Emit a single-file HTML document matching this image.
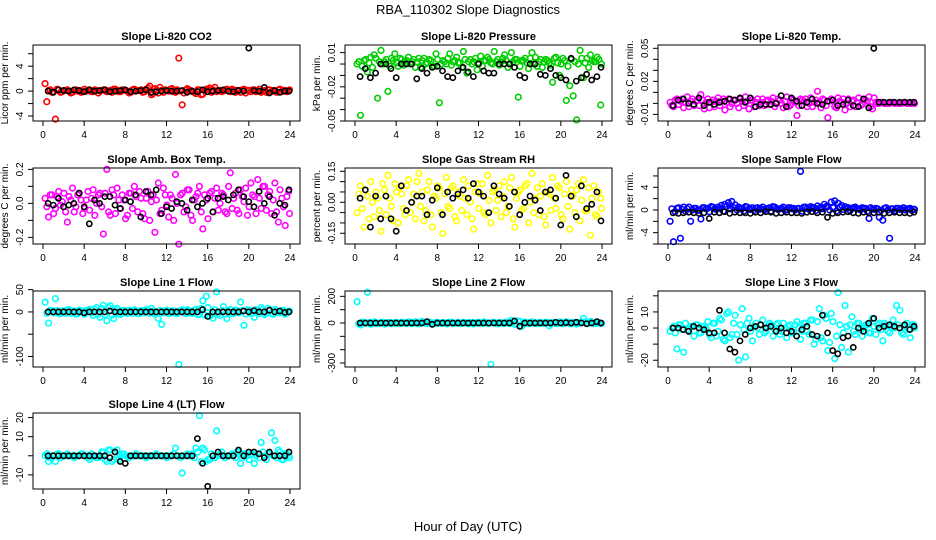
<!DOCTYPE html>
<html><head><meta charset="utf-8"><style>
html,body{margin:0;padding:0;background:#fff;}
svg{display:block;font-family:"Liberation Sans",Helvetica,Arial,sans-serif;}
</style></head><body>
<svg id="chart" width="936" height="540" viewBox="0 0 936 540" xmlns="http://www.w3.org/2000/svg">
<rect x="0" y="0" width="936" height="540" fill="#fff"/>
<text x="468" y="14" text-anchor="middle" font-size="13">RBA_110302  Slope Diagnostics</text>
<text x="468" y="531" text-anchor="middle" font-size="13">Hour of Day (UTC)</text>
</svg>
<script>
const colHours=[0.2,0.53,0.87,1.2,1.53,1.87,2.2,2.53,2.87,3.2,3.53,3.87,4.2,4.53,4.87,5.2,5.53,5.87,6.2,6.53,6.87,7.2,7.53,7.87,8.2,8.53,8.87,9.2,9.53,9.87,10.2,10.53,10.87,11.2,11.53,11.87,12.2,12.53,12.87,13.2,13.53,13.87,14.2,14.53,14.87,15.2,15.53,15.87,16.2,16.53,16.87,17.2,17.53,17.87,18.2,18.53,18.87,19.2,19.53,19.87,20.2,20.53,20.87,21.2,21.53,21.87,22.2,22.53,22.87,23.2,23.53,23.87];
const colHoursB=[0.37,0.7,1.03,1.37,1.7,2.03,2.37,2.7,3.03,3.37,3.7,4.03,4.37,4.7,5.03,5.37,5.7,6.03,6.37,6.7,7.03,7.37,7.7,8.03,8.37,8.7,9.03,9.37,9.7,10.03,10.37,10.7,11.03,11.37,11.7,12.03,12.37,12.7,13.03,13.37,13.7,14.03,14.37,14.7,15.03,15.37,15.7,16.03,16.37,16.7,17.03,17.37,17.7,18.03,18.37,18.7,19.03,19.37,19.7,20.03,20.37,20.7,21.03,21.37,21.7,22.03,22.37,22.7,23.03,23.37,23.7,23.95];
const blkHours=[0.5,1,1.5,2,2.5,3,3.5,4,4.5,5,5.5,6,6.5,7,7.5,8,8.5,9,9.5,10,10.5,11,11.5,12,12.5,13,13.5,14,14.5,15,15.5,16,16.5,17,17.5,18,18.5,19,19.5,20,20.5,21,21.5,22,22.5,23,23.5,23.9];
const xTicks=[0,4,8,12,16,20,24];

const co2Col=[1.2,0.1,-0.2,-4.5,0.2,-0.1,0.1,0,-0.2,0.2,0.1,-0.1,0,0.2,-0.1,0.1,0,0.2,-0.1,0.1,0.3,0,-0.1,0.2,0,-0.2,0.3,0.1,0.2,-0.1,0.5,-0.6,0.4,-0.3,0.1,0.2,0,0.4,-0.2,5.3,-2.2,0.2,0.1,-0.1,-0.4,0.2,-0.5,0.3,0.5,0.2,-0.1,0.1,0,0.3,-0.1,0.2,0.1,-0.2,0.3,0.1,-0.1,0.2,0,-0.2,0.1,0.2,-0.1,0,0.2,-0.1,0.1,0];
const co2ColB=[-1.7,0.2,-0.1,0.3,-0.2,0.1,0.2,-0.3,0.1,0,-0.2,0.3,0.1,-0.1,0.2,-0.3,0.1,0.2,0,-0.2,0.3,-0.1,0.2,0.1,-0.3,0.2,0,0.1,-0.2,0.3,0.8,-0.4,0.2,0.6,-0.2,0.1,0.3,-0.1,0.2,0,-0.3,0.4,0.1,-0.2,0.2,-0.6,0.1,0.3,-0.2,0.6,0.1,-0.1,0.2,0,0.3,-0.2,0.1,0.2,-0.3,0.1,0.2,-0.1,0.3,0,-0.2,0.2,0.1,-0.2,0.3,0.1,-0.1,0.2];
const co2Blk=[0,-0.2,0.2,0.1,0,0.2,0.1,-0.1,0.2,0,0.1,0.2,-0.1,0,0.1,0.2,-0.1,0,0.1,0.2,-0.2,-0.1,0,0.1,0,0,0.1,-0.2,0,-0.1,0.2,-0.1,0,0.1,0.2,0,-0.1,0.1,0,6.9,0.1,0,0.6,-0.3,0.1,-0.2,0,0];

const presCol=[0,-0.045,0.003,-0.007,0.006,0.008,-0.03,0.012,0.002,-0.024,0.005,0.009,-0.002,0.004,0.001,0.006,0.002,-0.003,0.005,0.003,0,0.004,-0.002,0.009,-0.034,0.003,0,0.009,0.002,0.006,0.001,0.011,-0.008,0.004,0.002,-0.005,0.007,0.003,0.006,0.001,0.011,0.004,0.002,0.008,-0.003,0.01,0.004,-0.029,0.003,0.005,-0.004,0.01,0.006,0.002,-0.003,0.004,0.001,-0.016,0.006,-0.01,0.005,-0.032,-0.019,-0.028,-0.049,0.012,-0.012,0.005,0.008,0.002,0.006,-0.036];
const presColB=[0.002,-0.002,0.004,0.001,-0.003,0.005,0.002,0,0.004,-0.002,0.003,0.001,0.005,-0.001,0.003,0,0.004,0.002,-0.003,0.005,0.001,0.003,-0.002,0.004,0,0.002,0.005,-0.001,0.003,0.001,-0.003,0.004,0.002,0,0.005,0.001,-0.002,0.003,0.004,0,0.002,-0.001,0.005,0.003,0,0.002,0.004,-0.002,0.003,0.001,0.005,0,-0.002,0.004,0.002,0.003,-0.001,0.005,0.001,0,0.003,-0.002,0.004,0.002,0,0.005,0.001,-0.003,0.003,0.002,0.004,0];
const presBlk=[-0.011,-0.004,-0.012,-0.008,0,0,-0.004,-0.012,0,0,0,-0.013,-0.004,-0.008,-0.003,-0.002,-0.006,-0.011,-0.012,-0.006,-0.003,-0.007,-0.011,0,-0.006,-0.008,-0.008,0,0,0,-0.003,-0.01,-0.012,0,0,-0.009,-0.01,-0.004,-0.01,-0.012,-0.014,0.005,-0.015,-0.012,-0.009,-0.014,-0.011,-0.003];

const tempCol=[0.001,-0.003,0.004,0.002,-0.004,0.006,0.002,-0.002,0.003,0.008,-0.005,0.004,0.001,-0.003,0.005,0.002,-0.006,0.004,0,0.003,-0.004,0.002,0.006,-0.005,0.003,0.001,-0.002,0.004,0.002,-0.001,0.005,0,0.003,-0.004,0.006,-0.002,0.003,-0.011,0.004,0.002,-0.003,0.005,0.001,0.011,-0.004,0.003,-0.013,0.004,-0.003,0.005,0.001,-0.006,0.004,0.002,-0.003,0.005,-0.001,0.003,0.006,-0.005,0.001,0,0.001,0,0,0.001,0,0,0.001,0,0,0.001];
const tempColB=[-0.002,0.003,-0.001,0.004,0.001,-0.003,0.004,0.002,-0.002,0.003,0.001,-0.004,0.003,0.002,-0.002,0.004,0.001,-0.003,0.003,0,0.004,-0.002,0.002,0.003,-0.003,0.004,0.001,-0.002,0.003,0.002,-0.003,0.004,0,0.002,-0.003,0.004,0.001,-0.002,0.003,0.004,0,-0.003,0.003,0.001,0.004,-0.002,0.002,0.003,-0.004,0.002,0.004,0,-0.003,0.003,0.001,-0.002,0.004,0.002,-0.003,0.005,0,0.001,0,0,0.001,0,0,0,0.001,0,0,0];
const tempBlk=[-0.002,0.003,0.004,0,-0.001,0.005,-0.002,0.001,-0.001,0.001,0.002,0.004,0.003,0.005,0.001,0.005,-0.003,-0.001,-0.001,-0.001,0,0.007,-0.003,0.005,0.002,-0.002,0.001,0.004,0,-0.001,0.002,0.003,-0.002,-0.001,0.003,-0.002,-0.003,0.004,-0.004,0.05,0.001,0.001,0.001,0.001,0.001,0.001,0.001,0.001];

const ambCol=[0.03,-0.08,0.05,-0.03,0.07,0.01,-0.05,0.04,0.09,-0.02,0.06,-0.06,0.02,-0.04,0.08,0.0,0.06,-0.18,0.2,-0.07,0.05,0.09,-0.03,0.02,-0.07,0.06,0.1,-0.05,0.03,-0.09,0.07,0.01,-0.17,0.12,-0.04,0.05,-0.08,0.03,0.17,-0.24,0.06,-0.02,0.08,-0.1,0.04,0.1,-0.15,0.02,0.06,-0.05,0.09,0.0,0.05,-0.06,0.18,0.03,-0.04,0.08,0.01,-0.07,0.12,0.04,0.14,-0.03,0.1,0.05,-0.06,0.12,-0.11,0.03,-0.13,0.07];
const ambColB=[-0.02,0.05,-0.06,0.04,-0.01,0.06,-0.11,0.02,-0.05,0.05,0.02,-0.03,0.07,0.03,-0.07,0.05,-0.02,0.06,-0.05,0.08,-0.06,0.02,0.05,-0.09,0.06,-0.03,0.04,0.07,-0.06,0.03,-0.1,0.05,0.02,-0.06,0.09,-0.01,0.05,-0.1,0.0,0.05,-0.05,0.08,-0.07,0.02,0.06,-0.05,0.05,-0.09,0.07,0.03,-0.04,0.06,-0.05,0.1,-0.03,0.06,-0.06,0.04,0.09,-0.02,0.05,-0.06,0.03,0.1,-0.04,0.07,0.02,-0.05,0.08,-0.02,0.04,-0.06];
const ambBlk=[0.0,-0.01,0.03,-0.02,-0.01,0.0,0.06,-0.02,-0.12,0.02,0.0,0.04,0.04,-0.01,-0.03,0.02,0.01,0.05,-0.08,0.07,0.05,0.08,-0.06,-0.02,-0.03,0.01,0.0,-0.04,0.02,-0.02,0.0,0.03,-0.05,0.03,0.04,0.02,0.05,0.08,0.04,0.01,-0.02,0.07,0.0,0.04,-0.07,0.0,-0.01,0.08];

const rhCol=[-0.05,0.08,-0.12,0.03,0.1,-0.07,0.02,-0.14,0.06,0.13,-0.02,0.09,-0.1,0.04,-0.06,0.11,0.0,-0.08,0.14,0.05,-0.04,0.1,-0.12,0.02,0.07,-0.15,0.12,-0.03,0.08,-0.09,0.03,0.11,-0.06,0.0,-0.13,0.09,0.04,-0.05,0.13,-0.1,0.06,0.01,-0.07,0.1,-0.02,0.12,-0.12,0.05,-0.04,0.08,-0.1,0.14,0.02,-0.06,0.09,-0.11,0.04,0.12,-0.03,0.07,-0.08,0.1,-0.13,0.03,0.06,-0.09,0.11,-0.04,-0.16,0.08,-0.07,0.02];
const rhColB=[0.04,-0.03,0.06,-0.08,0.0,0.05,-0.04,0.09,-0.06,0.02,-0.09,0.05,0.07,-0.03,0.08,-0.05,0.04,0.1,-0.02,-0.09,0.06,-0.06,0.03,0.08,-0.05,0.04,-0.02,0.07,-0.07,0.05,-0.04,0.02,0.08,-0.08,0.05,-0.03,0.09,-0.06,0.01,0.05,-0.04,0.08,0.03,-0.05,0.07,-0.08,0.02,0.06,-0.03,0.09,0.0,-0.05,0.07,0.03,-0.07,0.05,-0.04,0.02,0.08,-0.06,0.04,-0.02,0.06,-0.05,0.09,0.01,-0.04,0.07,0.02,-0.06,0.05,-0.03];
const rhBlk=[0.02,0.06,-0.12,0.03,-0.08,0.03,-0.08,-0.14,0.08,-0.04,0.0,0.03,0.03,-0.06,0.01,0.07,-0.06,0.05,0.02,0.04,0.06,0.02,0.09,0.05,0.03,-0.05,0.08,0.04,0.02,-0.02,0.05,-0.06,0.0,0.03,0.01,-0.04,0.05,0.06,0.02,-0.11,0.13,0.03,-0.07,0.08,-0.03,-0.01,0.05,-0.09];

const flowCol=[-2.0,-5.6,0.3,-5.0,0.5,0.2,-2.0,0.3,-0.1,-1.6,0.4,0.3,0.6,0.2,0.5,0.8,1.0,1.3,1.5,0.9,0.5,0.3,0.6,0.2,0.4,0.3,0.1,0.5,0.2,0.4,0.6,0.3,0.2,0.5,0.1,0.4,0.3,0.2,6.8,0.5,0.3,0.6,0.4,0.7,0.5,1.0,0.6,1.4,1.6,1.2,0.8,0.6,0.4,0.3,0.5,0.2,0.4,0.3,-1.5,0.2,0.3,-1.3,-1.8,0.4,-5.0,0.2,0.3,0.1,0.4,0.2,0.3,0.1];
const flowColB=[0.2,-0.3,0.4,0.1,-0.2,0.5,0.0,0.3,-0.1,0.4,0.2,-0.3,0.5,0.1,0.3,-0.2,0.6,0.2,0.4,0.0,0.3,-0.2,0.5,0.1,-0.1,0.4,0.2,0.0,0.3,-0.2,0.5,0.1,0.3,-0.1,0.4,0.2,0.0,0.3,-0.2,0.5,0.1,0.4,-0.1,0.3,0.2,0.6,0.0,0.4,-0.2,0.5,0.1,0.3,-0.1,0.4,0.2,0.0,0.3,-0.2,0.4,0.1,0.2,-0.1,0.3,0.0,0.2,-0.1,0.3,0.1,0.0,0.2,-0.1,0.1];
const flowBlk=[-0.5,-0.6,-0.5,-0.4,-0.5,-0.6,-0.5,-1.5,-0.4,-0.5,-0.3,-0.6,-0.4,-0.5,-0.5,-0.6,-0.4,-0.5,-0.3,-0.4,-0.6,-0.5,-0.4,-0.5,-0.5,-0.6,-0.4,-0.3,-0.5,-0.4,-1.3,-0.6,-0.5,-0.4,-0.3,-0.5,-0.6,-0.4,-0.5,-0.5,-0.4,-0.6,-0.5,-0.4,-0.5,-0.5,-0.6,-0.4];

const l1Col=[22,-25,3,30,-4,2,-3,5,0,-5,4,-2,3,6,-8,10,-12,15,-20,14,-15,8,-6,4,-3,2,5,-4,3,-2,4,8,-5,-15,-28,3,-4,2,-3,-118,5,-4,3,-3,6,-6,25,35,-10,-14,45,-8,12,-15,6,-4,3,22,-30,5,-3,-12,4,10,-6,8,-4,6,-2,3,-5,2];
const l1ColB=[-3,4,-2,3,-4,2,5,-3,2,-4,3,-5,4,-2,6,-5,8,-6,10,-7,5,-4,3,-2,4,-3,2,-4,3,5,-3,2,-4,3,-2,4,-3,2,-4,3,-2,5,-3,4,-6,8,-7,10,-6,5,-4,3,-5,2,-3,4,-2,3,-5,4,-3,5,-4,6,-3,4,-5,3,-2,4,-3,2];
const l1Blk=[0,0,0,0,0,0,0,-2,0,0,0,0,2,0,0,0,0,0,0,0,0,0,0,0,0,0,0,0,0,0,5,-10,0,0,0,0,0,0,2,0,3,0,0,4,0,2,-1,0];

const l2Col=[160,-15,5,230,-10,8,-5,3,-8,4,-6,5,-4,6,-3,8,-5,10,-7,12,-4,6,-8,5,-3,4,-6,7,-4,3,-5,6,-3,4,-7,5,-2,8,-4,-310,5,-6,4,-3,7,20,-10,15,-25,6,-5,8,-4,5,-3,6,-20,4,-5,8,-6,10,-4,5,-8,6,35,-5,12,-3,6,-4];
const l2ColB=[-5,6,-4,5,-6,4,-3,6,-5,4,-3,5,-6,4,-5,6,-4,5,-3,6,-5,4,-6,5,-4,3,-5,6,-4,5,-3,4,-6,5,-4,6,-3,5,-4,6,-5,4,-3,6,-5,10,-8,12,-6,5,-4,6,-5,4,-3,5,-6,4,-5,6,-4,5,-6,4,-3,5,10,-4,6,-5,4,-3];
const l2Blk=[0,0,0,0,0,0,0,0,0,0,0,0,0,10,-10,0,0,0,0,0,0,0,0,0,0,0,0,0,0,0,15,-25,0,0,0,0,0,0,5,0,3,0,5,0,-5,0,10,0];

const l3Col=[-2,1,-13,2,-15,-1,1,-5,2,-3,1,4,-6,3,-2,5,-8,10,-4,8,-20,12,-18,6,-8,3,-4,5,-2,3,-5,2,-4,3,-6,2,-3,4,-7,3,-2,5,-10,4,-6,8,-14,9,-19,22,-12,14,-15,7,-4,3,-5,2,-3,6,-4,3,-8,2,-3,5,14,11,-4,3,-6,2];
const l3ColB=[0,-3,2,-1,3,-2,1,2,-3,1,0,-4,3,-5,6,-7,9,-6,3,-4,2,-1,3,-2,1,0,2,-3,1,2,-1,3,-2,0,1,-3,2,0,-2,3,-4,5,-7,12,-8,6,-9,4,-5,2,-3,1,2,-2,3,-1,0,2,-3,1,2,-1,3,-2,1,0,2,-3,1,-1,2,0];
const l3Blk=[0,0,-1,-2,1,0,-1,-3,-3,11,-3,-13,-15,-8,-4,0,1,2,0,1,-2,0,-3,-2,-5,-1,1,-4,-5,8,-3,-14,-16,-6,-5,-12,0,-2,3,6,0,1,2,1,0,2,-1,1];

const l4Col=[0,-3,0,-3,1,0,0,0,0,0,0,1,0,-2,0,-1,0,2,-3,3,-2,3,0,1,0,0,0,0,0,0,0,0,0,0,0,0,0,0,4,0,-9,0,0,1,4,21,4,-3,-2,0,13,1,0,0,0,1,2,-4,1,0,1,-4,1,7,0,1,12,8,3,-2,1,0];
const l4ColB=[1,-1,0,1,-1,0,1,0,-1,0,1,0,-1,1,0,-1,2,-2,3,-3,2,-2,1,0,-1,0,1,0,0,-1,0,0,1,0,0,-1,0,1,0,-1,0,1,0,-1,2,-3,3,-2,1,-1,0,2,-1,0,1,-1,2,-1,1,-2,1,0,-1,2,-2,1,0,-1,2,-2,1,-1];
const l4Blk=[0,0,0,0,0,0,0,0,0,0,0,0,-1,2,-3,-4,0,0,0,0,0,0,0,0,0,0,0,0,0,9,-4,-16,0,2,0,0,0,3,0,2,2,1,-1,2,0,0,0,2];

const co2Ticks=[-4,-2,0,2,4,6];const co2Labels=["-4","","0","","4",""];
const presTicks=[0.01,0,-0.01,-0.02,-0.03,-0.04,-0.05];const presLabels=["0.01","","","-0.02","","","-0.05"];
const tempTicks=[0.05,0.04,0.03,0.02,0.01,0,-0.01];const tempLabels=["0.05","","","0.02","","","-0.01"];
const ambTicks=[0.2,0.1,0,-0.1,-0.2];const ambLabels=["0.2","","0.0","","-0.2"];
const rhTicks=[0.15,0.1,0.05,0,-0.05,-0.1,-0.15];const rhLabels=["0.15","","","0.00","","","-0.15"];
const flowTicks=[-6,-4,-2,0,2,4,6];const flowLabels=["","-4","","0","","4",""];
const l1Ticks=[50,0,-50,-100];const l1Labels=["50","0","","-100"];
const l2Ticks=[200,100,0,-100,-200,-300];const l2Labels=["200","","0","","","-300"];
const l3Ticks=[20,10,0,-10,-20];const l3Labels=["","10","0","","-20"];
const l4Ticks=[20,10,0,-10];const l4Labels=["20","10","","-10"];

const panels=[
 {name:"co2",title:"Slope Li-820 CO2",ylab:"Licor ppm per min.",col:0,row:0,ymin:-4.8,ymax:7.4,color:"#ff0000",series:[[colHoursB,co2ColB],[colHours,co2Col]],blk:co2Blk,ticks:co2Ticks,labels:co2Labels},
 {name:"pressure",title:"Slope Li-820 Pressure",ylab:"kPa per min.",col:1,row:0,ymin:-0.050,ymax:0.0167,color:"#00cd00",series:[[colHoursB,presColB],[colHours,presCol]],blk:presBlk,ticks:presTicks,labels:presLabels},
 {name:"temp",title:"Slope Li-820 Temp.",ylab:"degrees C per min.",col:2,row:0,ymin:-0.016,ymax:0.053,color:"#ff00ff",series:[[colHoursB,tempColB],[colHours,tempCol]],blk:tempBlk,ticks:tempTicks,labels:tempLabels},
 {name:"amb-box-temp",title:"Slope Amb. Box Temp.",ylab:"degrees C per min.",col:0,row:1,ymin:-0.239,ymax:0.208,color:"#ff00ff",series:[[colHoursB,ambColB],[colHours,ambCol]],blk:ambBlk,ticks:ambTicks,labels:ambLabels},
 {name:"gas-rh",title:"Slope Gas Stream RH",ylab:"percent per min.",col:1,row:1,ymin:-0.202,ymax:0.166,color:"#ffff00",series:[[colHoursB,rhColB],[colHours,rhCol]],blk:rhBlk,ticks:rhTicks,labels:rhLabels},
 {name:"sample-flow",title:"Slope Sample Flow",ylab:"ml/min per min.",col:2,row:1,ymin:-6.0,ymax:7.4,color:"#0000ff",series:[[colHoursB,flowColB],[colHours,flowCol]],blk:flowBlk,ticks:flowTicks,labels:flowLabels},
 {name:"line1-flow",title:"Slope Line 1 Flow",ylab:"ml/min per min.",col:0,row:2,ymin:-123.6,ymax:47,color:"#00ffff",series:[[colHoursB,l1ColB],[colHours,l1Col]],blk:l1Blk,ticks:l1Ticks,labels:l1Labels},
 {name:"line2-flow",title:"Slope Line 2 Flow",ylab:"ml/min per min.",col:1,row:2,ymin:-330,ymax:240,color:"#00ffff",series:[[colHoursB,l2ColB],[colHours,l2Col]],blk:l2Blk,ticks:l2Ticks,labels:l2Labels},
 {name:"line3-flow",title:"Slope Line 3 Flow",ylab:"ml/min per min.",col:2,row:2,ymin:-24.2,ymax:23,color:"#00ffff",series:[[colHoursB,l3ColB],[colHours,l3Col]],blk:l3Blk,ticks:l3Ticks,labels:l3Labels},
 {name:"line4-flow",title:"Slope Line 4 (LT) Flow",ylab:"ml/min per min.",col:0,row:3,ymin:-17.4,ymax:22.4,color:"#00ffff",series:[[colHoursB,l4ColB],[colHours,l4Col]],blk:l4Blk,ticks:l4Ticks,labels:l4Labels}
];

const NS="http://www.w3.org/2000/svg";
const svg=document.getElementById('chart');
function mk(tag,attrs,parent){const e=document.createElementNS(NS,tag);for(const k in attrs)e.setAttribute(k,attrs[k]);(parent||svg).appendChild(e);return e;}
const colOff=[0,312,625], rowTop=[45,168,291,413], boxH=76;

panels.forEach(p=>{
  const L=33+colOff[p.col], R=300+colOff[p.col], T=rowTop[p.row], B=T+boxH;
  const xs=h=>L+10+h*(247/24);
  const ys=v=>B-(v-p.ymin)/(p.ymax-p.ymin)*boxH;
  const g=mk('g',{});
  
  
  const t=mk('text',{x:(L+R)/2,y:T-5,'text-anchor':'middle','font-size':'11','font-weight':'bold'},g);
  t.textContent=p.title;
  
  
  const yl=mk('text',{x:0,y:0,transform:`translate(${L-25},${(T+B)/2}) rotate(-90)`,'text-anchor':'middle','font-size':'10'},g);
  yl.textContent=p.ylab;
  
  
  const pg=mk('g',{fill:'none','stroke-width':'1.6'},g);
  
  
  p.series.forEach(s=>{
    s[1].forEach((v,i)=>{
      const c=mk('circle',{cx:xs(s[0][i]).toFixed(1),cy:ys(v).toFixed(1),r:2.8,stroke:p.color},pg);
      
      
    });
  });
  p.blk.forEach((v,i)=>{
    const c=mk('circle',{cx:xs(blkHours[i]).toFixed(1),cy:ys(v).toFixed(1),r:2.6,stroke:'#000'},pg);
    
    
  });
  const bx=mk('rect',{x:L,y:T,width:R-L,height:boxH,fill:'none',stroke:'#000','stroke-width':'1'},g);
  
  
  const xa=mk('g',{},g);
  
  
  mk('line',{x1:xs(0),x2:xs(24),y1:B,y2:B,stroke:'#000'},xa);
  xTicks.forEach(h=>{
    mk('line',{x1:xs(h),x2:xs(h),y1:B,y2:B+5,stroke:'#000'},xa);
    const tl=mk('text',{x:xs(h),y:B+17,'text-anchor':'middle','font-size':'10'},xa);
    tl.textContent=h;
    
    
  });
  const ya=mk('g',{},g);
  
  
  const ty=p.ticks.map(ys);
  mk('line',{x1:L,x2:L,y1:Math.min(...ty),y2:Math.max(...ty),stroke:'#000'},ya);
  p.ticks.forEach((v,i)=>{
    const y=ys(v);
    mk('line',{x1:L-5,x2:L,y1:y,y2:y,stroke:'#000'},ya);
    if(p.labels[i]){
      const tl=mk('text',{x:0,y:0,transform:`translate(${L-10},${y}) rotate(-90)`,'text-anchor':'middle','font-size':'10'},ya);
      tl.textContent=p.labels[i];
      
      
    }
  });
});
</script>
</body></html>
